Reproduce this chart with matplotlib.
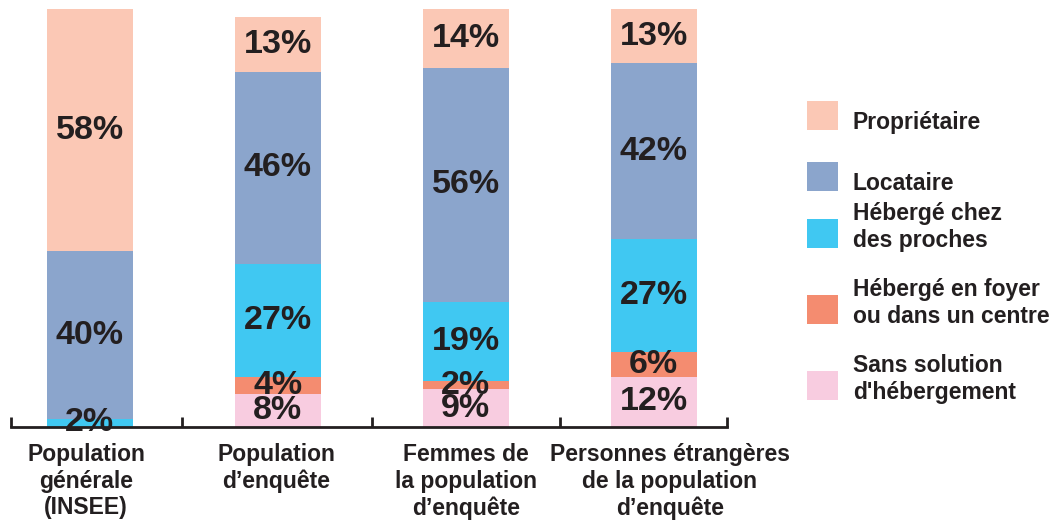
import numpy as np
import matplotlib.pyplot as plt
from matplotlib.patches import Rectangle

plt.rcParams['font.family'] = ['Liberation Sans', 'DejaVu Sans']

groups = ['Population\ngénérale\n(INSEE)', 'Population\nd’enquête',
          'Femmes de\nla population\nd’enquête',
          'Personnes étrangères\nde la population\nd’enquête']
# stacked from the bottom up
series = ['Sans solution\nd\'hébergement', 'Hébergé en foyer\nou dans un centre',
          'Hébergé chez\ndes proches', 'Locataire', 'Propriétaire']
sans_solution = [0, 8, 9, 12]
foyer = [0, 4, 2, 6]
proches = [2, 27, 19, 27]
locataire = [40, 46, 56, 42]
proprietaire = [58, 13, 14, 13]
values = [sans_solution, foyer, proches, locataire, proprietaire]
colors = ['#F8CCE0', '#F48C70', '#40C8F2', '#8BA5CC', '#FBC8B5']

txt = '#231F20'
W, H = 1054, 522
fig = plt.figure(figsize=(W / 100, H / 100), dpi=100)
ax = fig.add_axes([11 / W, (H - 427) / H, 716 / W, 418 / H])

x = np.arange(len(groups))
bottom = np.zeros(len(groups))
for vals, col in zip(values, colors):
    vals = np.array(vals, dtype=float)
    ax.bar(x, vals, width=0.458, bottom=bottom, color=col, linewidth=0)
    for xi, b, v in zip(x, bottom, vals):
        if v > 0:
            ax.text(xi, b + v / 2, f'{int(v)}%', ha='center', va='center',
                    fontsize=24.5, fontweight='bold', color=txt)
    bottom += vals

ax.set_xlim(-0.42, 3.39)
ax.set_ylim(0, 100)
for s in ['top', 'right', 'left']:
    ax.spines[s].set_visible(False)
ax.spines['bottom'].set_color(txt)
ax.spines['bottom'].set_linewidth(2)
ax.set_yticks([])
ax.set_xticks(x)
ax.set_xticklabels([])
ax.tick_params(axis='x', which='major', length=0)
ax.set_xticks([-0.42, 0.49, 1.5, 2.5, 3.39], minor=True)
ax.tick_params(axis='x', which='minor', direction='in', length=7, width=2,
               color=txt)

# category labels, the last one sits a bit right of its bar
shift = [-0.02, -0.01, 0.0, 0.085]
for xi, lab, dx in zip(x, groups, shift):
    ax.text(xi + dx, -16 / 418, lab, transform=ax.get_xaxis_transform(),
            ha='center', va='top', multialignment='center',
            fontsize=16.5, fontweight='bold', color=txt, linespacing=1.2)

# legend drawn by hand, top to bottom
leg_tops = [101, 162, 219, 295, 371]
for name, col, top in zip(series[::-1], colors[::-1], leg_tops):
    fig.patches.append(Rectangle((807 / W, 1 - (top + 29) / H), 31 / W, 29 / H,
                                 transform=fig.transFigure, color=col, linewidth=0))
    fig.text(853 / W, 1 - (top + 28) / H, name, ha='left', va='baseline',
             fontsize=16.5, fontweight='bold', color=txt, linespacing=1.2)

fig.savefig('out.png', dpi=100)
